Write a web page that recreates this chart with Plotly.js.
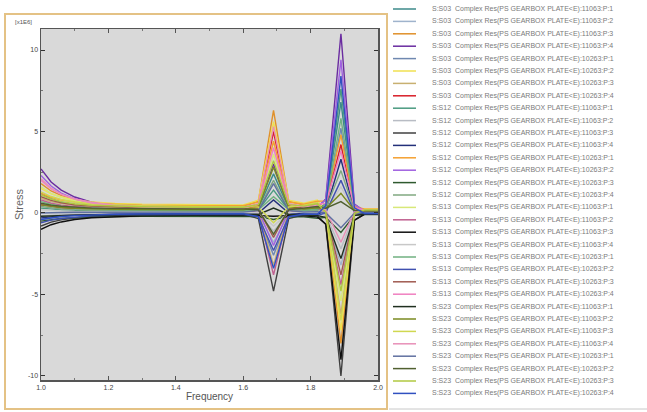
<!DOCTYPE html>
<html>
<head>
<meta charset="utf-8">
<script src="https://cdn.plot.ly/plotly-3.0.1.min.js"></script>
<style>html,body{margin:0;padding:0;background:#fff;}#chart{width:647px;height:412px;}</style>
</head>
<body>
<div id="chart"></div>
<script>
// Frequency grid (x values)
const freq = [1.00,1.03,1.06,1.10,1.15,1.22,1.30,1.45,1.60,1.645,1.69,1.735,1.78,1.82,1.845,1.89,1.93,1.96,2.00];

// Series names parts
const sensors = ['S03','S12','S13','S23'];
const runs = ['11063','10263'];
const points = ['1','2','3','4'];

// Stress values (x1E6), one array per series
const S1  = [1.20,0.86,0.66,0.48,0.35,0.25,0.19,0.15,0.15,0.27,2.40,0.27,0.18,0.24,0.56,6.80,0.35,0.08,0.08];
const S2  = [0.60,0.42,0.31,0.21,0.14,0.09,0.07,0.05,0.05,-0.04,-1.80,-0.04,0.06,0.08,-0.14,-3.20,-0.10,0.03,0.03];
const S3  = [1.80,1.35,1.08,0.84,0.66,0.53,0.46,0.40,0.40,0.72,6.30,0.72,0.48,0.64,-0.08,-8.00,-0.12,0.20,0.20];
const S4  = [2.70,1.90,1.40,0.98,0.66,0.44,0.31,0.20,0.20,0.35,3.00,0.35,0.24,0.32,0.86,11.00,0.54,0.10,0.10];
const S5  = [-0.40,-0.29,-0.22,-0.16,-0.11,-0.08,-0.06,-0.05,-0.05,-0.18,-2.60,-0.18,-0.06,-0.08,0.26,5.20,0.18,-0.03,-0.03];
const S6  = [1.50,1.18,0.98,0.82,0.68,0.59,0.54,0.50,0.50,0.78,5.60,0.78,0.60,0.80,0.07,-7.20,-0.04,0.25,0.25];
const S7  = [0.90,0.70,0.58,0.48,0.40,0.35,0.32,0.30,0.30,0.14,-3.20,0.14,0.36,0.48,-0.07,-6.20,-0.10,0.15,0.15];
const S8  = [0.50,0.40,0.34,0.29,0.25,0.22,0.21,0.20,0.20,0.45,5.00,0.45,0.24,0.32,0.45,4.20,0.27,0.20,0.20];
const S9  = [0.30,0.23,0.19,0.16,0.13,0.12,0.11,0.10,0.10,0.17,1.40,0.17,0.12,0.16,0.56,7.60,0.35,0.05,0.05];
const S10 = [-0.20,-0.13,-0.09,-0.06,-0.03,-0.02,-0.01,0.00,0.00,-0.06,-1.10,-0.06,0.00,0.00,-0.13,-2.20,-0.09,0.00,0.00];
const S11 = [-0.80,-0.56,-0.42,-0.31,-0.22,-0.16,-0.13,-0.10,-0.10,-0.34,-4.80,-0.34,-0.12,-0.16,-0.70,-10.00,-0.45,-0.05,-0.05];
const S12 = [-0.30,-0.22,-0.17,-0.13,-0.09,-0.07,-0.06,-0.05,-0.05,-0.01,0.80,-0.01,-0.06,-0.08,0.15,3.30,0.11,-0.03,-0.03];
const S13 = [1.20,0.96,0.80,0.68,0.58,0.52,0.48,0.45,0.45,0.67,4.40,0.67,0.54,0.72,0.74,4.80,0.42,0.23,0.23];
const S14 = [2.30,1.65,1.22,0.87,0.61,0.43,0.33,0.25,0.25,0.15,-2.00,0.15,0.30,0.40,0.81,9.40,0.51,0.13,0.13];
const S15 = [-0.50,-0.40,-0.34,-0.29,-0.25,-0.22,-0.21,-0.20,-0.20,-0.22,-0.40,-0.22,-0.24,-0.32,-0.27,-1.20,-0.15,-0.10,-0.10];
const S16 = [0.40,0.30,0.24,0.19,0.15,0.12,0.11,0.10,0.10,0.20,2.00,0.20,0.12,0.16,0.26,2.60,0.15,0.05,0.05];
const S17 = [1.60,1.20,0.95,0.74,0.57,0.46,0.40,0.35,0.35,0.53,3.60,0.53,0.42,0.56,0.03,-5.40,-0.04,0.18,0.18];
const S18 = [0.80,0.60,0.48,0.38,0.30,0.25,0.22,0.20,0.20,0.01,-3.80,0.01,0.24,0.32,-0.06,-4.40,-0.08,0.10,0.10];
const S19 = [-1.00,-0.72,-0.55,-0.40,-0.29,-0.22,-0.18,-0.15,-0.15,-0.16,-0.20,-0.16,-0.18,-0.24,-0.69,-9.00,-0.44,-0.08,-0.08];
const S20 = [0.20,0.15,0.12,0.09,0.07,0.06,0.06,0.05,0.05,0.01,-0.80,0.01,0.06,0.08,0.15,1.60,0.09,0.03,0.03];
const S21 = [0.70,0.52,0.41,0.31,0.24,0.19,0.17,0.15,0.15,0.20,1.00,0.20,0.18,0.24,0.50,5.80,0.31,0.08,0.08];
const S22 = [-0.60,-0.44,-0.34,-0.25,-0.18,-0.14,-0.12,-0.10,-0.10,-0.22,-2.30,-0.22,-0.12,-0.16,0.02,2.00,0.03,-0.05,-0.05];
const S23 = [1.00,0.77,0.62,0.50,0.42,0.36,0.33,0.30,0.30,0.23,-1.50,0.23,0.36,0.48,0.07,-3.80,0.00,0.15,0.15];
const S24 = [2.00,1.48,1.14,0.86,0.64,0.50,0.42,0.35,0.35,0.55,4.00,0.55,0.42,0.56,0.58,3.80,0.33,0.18,0.18];
const S25 = [-0.20,-0.17,-0.15,-0.13,-0.12,-0.11,-0.10,-0.10,-0.10,-0.09,0.30,-0.09,-0.12,-0.16,-0.27,-2.80,-0.16,-0.05,-0.05];
const S26 = [0.50,0.40,0.34,0.29,0.25,0.22,0.21,0.20,0.20,0.34,2.80,0.34,0.24,0.32,0.27,1.20,0.15,0.10,0.10];
const S27 = [1.30,1.01,0.83,0.67,0.55,0.48,0.44,0.40,0.40,0.37,-0.60,0.37,0.48,0.64,0.00,-6.60,-0.06,0.20,0.20];
const S28 = [2.10,1.52,1.15,0.85,0.61,0.46,0.37,0.30,0.30,0.57,5.30,0.57,0.36,0.48,0.19,-1.80,0.08,0.15,0.15];
const S29 = [0.00,0.02,0.03,0.04,0.04,0.05,0.05,0.05,0.05,0.14,1.80,0.14,0.06,0.08,0.00,-0.90,-0.01,0.03,0.03];
const S30 = [0.60,0.48,0.41,0.35,0.30,0.28,0.26,0.25,0.25,0.19,-1.30,0.19,0.30,0.40,0.29,0.70,0.15,0.13,0.13];
const S31 = [1.10,0.86,0.70,0.57,0.47,0.41,0.38,0.35,0.35,0.51,3.20,0.51,0.42,0.56,0.06,-4.80,-0.02,0.18,0.18];
const S32 = [-0.40,-0.29,-0.22,-0.16,-0.11,-0.08,-0.06,-0.05,-0.05,-0.22,-3.40,-0.22,-0.06,-0.08,0.45,8.40,0.31,-0.03,-0.03];

const series = [S1,S2,S3,S4,S5,S6,S7,S8,S9,S10,S11,S12,S13,S14,S15,S16,S17,S18,S19,S20,S21,S22,S23,S24,S25,S26,S27,S28,S29,S30,S31,S32];

const colors = ['#3d8a8a','#9fb3cc','#e0902a','#6a2ca0','#6f88b0','#f0e050','#c8b070','#d81e28',
                '#4a9a80','#b8bcc4','#404040','#23307a','#f5a030','#a060e0','#2f5a2f','#80a880',
                '#d8e878','#c06090','#101010','#c8c8c8','#70b080','#4050b0','#a05a50','#f080c0',
                '#203020','#7a8a20','#d0d850','#e890b8','#6070a0','#506030','#b0c840','#3050c0'];

const yTickVals = [-10,-5,0,5,10];
const yTickText = ['-10','-5','0','5','10'];
const xTickVals = [1.0,1.2,1.4,1.6,1.8,2.0];
const xTickText = ['1.0','1.2','1.4','1.6','1.8','2.0'];

// build names
const names = [];
sensors.forEach(s => runs.forEach(r => points.forEach(p => {
  names.push('S:' + s + '  Complex Res(PS GEARBOX PLATE&lt;E):' + r + ':P:' + p);
})));

const traces = series.map((ys, i) => ({
  type: 'scatter', mode: 'lines', x: freq, y: ys, name: names[i],
  line: {color: colors[i], width: 1.4}, showlegend: false, hoverinfo: 'skip'
}));

// geometry helpers (pixel -> paper)
const L = 41, R = 378, T = 29, B = 380;
const px = v => (v - L) / (R - L);
const py = v => (B - v) / (B - T);

const shapes = [
  {type:'rect', xref:'paper', yref:'paper', x0:px(5), x1:px(387), y0:py(409), y1:py(14),
   line:{color:'#e4c285', width:2}, fillcolor:'rgba(0,0,0,0)', layer:'above'},
  {type:'line', xref:'paper', yref:'paper', x0:px(389), x1:px(647), y0:py(409), y1:py(409),
   line:{color:'#c8c8c8', width:1}}
];
const annotations = [
  {xref:'paper', yref:'paper', x:px(13), y:py(22), text:'[x1E6]', showarrow:false,
   xanchor:'left', yanchor:'middle', font:{size:6, color:'#555', family:'Liberation Sans'}}
];
names.forEach((n, i) => {
  const yy = 9 + i * 12.4;
  shapes.push({type:'line', xref:'paper', yref:'paper', x0:px(393), x1:px(416), y0:py(yy), y1:py(yy),
    line:{color:colors[i], width:1.5}});
  annotations.push({xref:'paper', yref:'paper', x:px(430), y:py(yy), text:n, showarrow:false,
    xanchor:'left', yanchor:'middle', font:{size:7, color:'#7a7a7a', family:'Liberation Sans'}});
});

const layout = {
  width: 647, height: 412,
  margin: {l: L, r: 647 - R, t: T, b: 412 - B},
  paper_bgcolor: '#ffffff', plot_bgcolor: '#d9d9d9',
  showlegend: false,
  font: {family: 'Liberation Sans', size: 7, color: '#444'},
  xaxis: {
    range: [1.0, 2.0], tickvals: xTickVals, ticktext: xTickText,
    ticks: 'inside', ticklen: 4, tickcolor: '#555', showline: true, linecolor: '#555', linewidth: 1.5,
    mirror: 'allticks', showgrid: false, zeroline: false,
    minor: {tickvals: [1.1,1.3,1.5,1.7,1.9], ticks: 'inside', ticklen: 2, tickcolor: '#777'},
    tickfont: {size: 7, color: '#444'},
    title: {text: 'Frequency', font: {size: 10, color: '#555'}, standoff: 3}
  },
  yaxis: {
    range: [-10.25, 11.29], tickvals: yTickVals, ticktext: yTickText,
    ticks: 'inside', ticklen: 4, tickcolor: '#333', showline: true, linecolor: '#555', linewidth: 1.5,
    mirror: 'allticks', showgrid: false, zeroline: false,
    minor: {tickvals: [-7.5,-2.5,2.5,7.5], ticks: 'inside', ticklen: 2, tickcolor: '#777'},
    tickfont: {size: 7, color: '#444'},
    title: {text: 'Stress', font: {size: 11, color: '#666'}, standoff: 2}
  },
  shapes: shapes,
  annotations: annotations
};

Plotly.newPlot('chart', traces, layout, {displayModeBar: false, staticPlot: true});
</script>
</body>
</html>
